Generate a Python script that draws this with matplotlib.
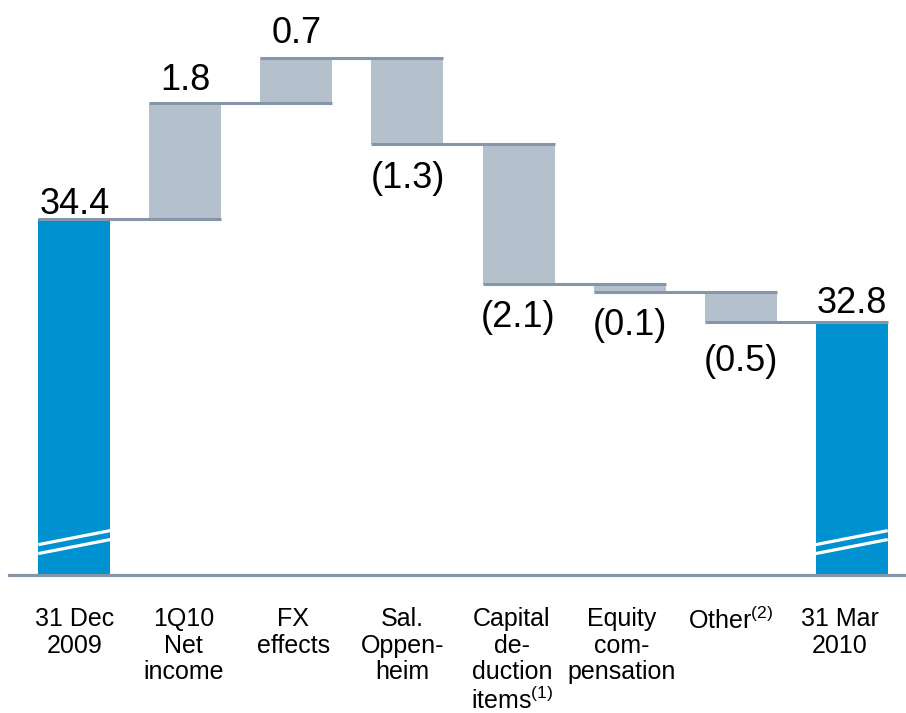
import matplotlib
matplotlib.use("Agg")
import matplotlib.pyplot as plt
import numpy as np

plt.rcParams['font.family'] = ['Liberation Sans', 'DejaVu Sans']
plt.rcParams['mathtext.fontset'] = 'custom'
plt.rcParams['mathtext.rm'] = 'Liberation Sans'
plt.rcParams['mathtext.it'] = 'Liberation Sans:italic'
plt.rcParams['mathtext.bf'] = 'Liberation Sans:bold'

# ---- data ----
categories = ["31 Dec\n2009", "1Q10\nNet\nincome", "FX\neffects", "Sal.\nOppen-\nheim",
              "Capital\nde-\nduction\nitems$^{\\mathrm{(1)}}$", "Equity\ncom-\npensation",
              "Other$^{\\mathrm{(2)}}$", "31 Mar\n2010"]
start_value = 34.4
changes = [1.82, 0.72, -1.35, -2.20, -0.125, -0.47]
end_value = 32.8
value_labels = ["34.4", "1.8", "0.7", "(1.3)", "(2.1)", "(0.1)", "(0.5)", "32.8"]
axis_floor = 28.83

# ---- style ----
BLUE = '#0092d0'
GREY = '#b4c0cc'
LINE = '#8496a8'
bar_w = 0.648
label_gap_px = [5, 13, 15, 17, 16, 16, 22, 9]

fig = plt.figure(figsize=(9.06, 7.13), dpi=100)
ax = fig.add_axes([0, 0, 1, 1])
ax.set_xlim(-0.669, 7.489)
ax.set_ylim(26.659, 37.843)
ax.axis('off')

n = len(categories)
x = np.arange(n)

# cumulative levels
levels = [start_value]
for c in changes:
    levels.append(levels[-1] + c)

# bars
ax.bar(x[0], start_value - axis_floor, bottom=axis_floor, width=bar_w, color=BLUE, zorder=2)
ax.bar(x[-1], end_value - axis_floor, bottom=axis_floor, width=bar_w, color=BLUE, zorder=2)
for i, c in enumerate(changes, start=1):
    lo = min(levels[i - 1], levels[i])
    ax.bar(x[i], abs(c), bottom=lo, width=bar_w, color=GREY, zorder=2)

# connectors: level after bar i, from left of bar i to right of bar i+1
for i in range(n - 1):
    lvl = levels[i]
    ax.plot([x[i] - bar_w / 2, x[i + 1] + bar_w / 2], [lvl, lvl], color=LINE, lw=2.2,
            solid_capstyle='butt', zorder=3)

# break marks on the blue bars
for xi in (x[0], x[-1]):
    for dl, dr in ((0.47, 0.69), (0.33, 0.55)):
        ax.plot([xi - bar_w / 2, xi + bar_w / 2], [axis_floor + dl, axis_floor + dr],
                color='white', lw=2.3, solid_capstyle='butt', zorder=4)

# axis line
ax.axhline(axis_floor, xmin=9 / 906, xmax=1, color=LINE, lw=2.3, zorder=5)

# value labels
tops = [start_value] + [max(levels[i - 1], levels[i]) for i in range(1, n - 1)] + [end_value]
bottoms = [start_value] + [min(levels[i - 1], levels[i]) for i in range(1, n - 1)] + [end_value]
for i in range(n):
    neg = value_labels[i].startswith('(')
    if neg:
        ax.annotate(value_labels[i], (x[i], bottoms[i]), xytext=(0, -label_gap_px[i]),
                    textcoords='offset pixels', ha='center', va='top', fontsize=26)
    else:
        ax.annotate(value_labels[i], (x[i], tops[i]), xytext=(0, label_gap_px[i]),
                    textcoords='offset pixels', ha='center', va='baseline', fontsize=26)

# category labels
ycat = 28.32
for i in range(n):
    ax.text(x[i] * 0.985, ycat, categories[i], ha='center', va='top', fontsize=18,
            linespacing=1.13, multialignment='center')

fig.savefig('out.png', dpi=100)
